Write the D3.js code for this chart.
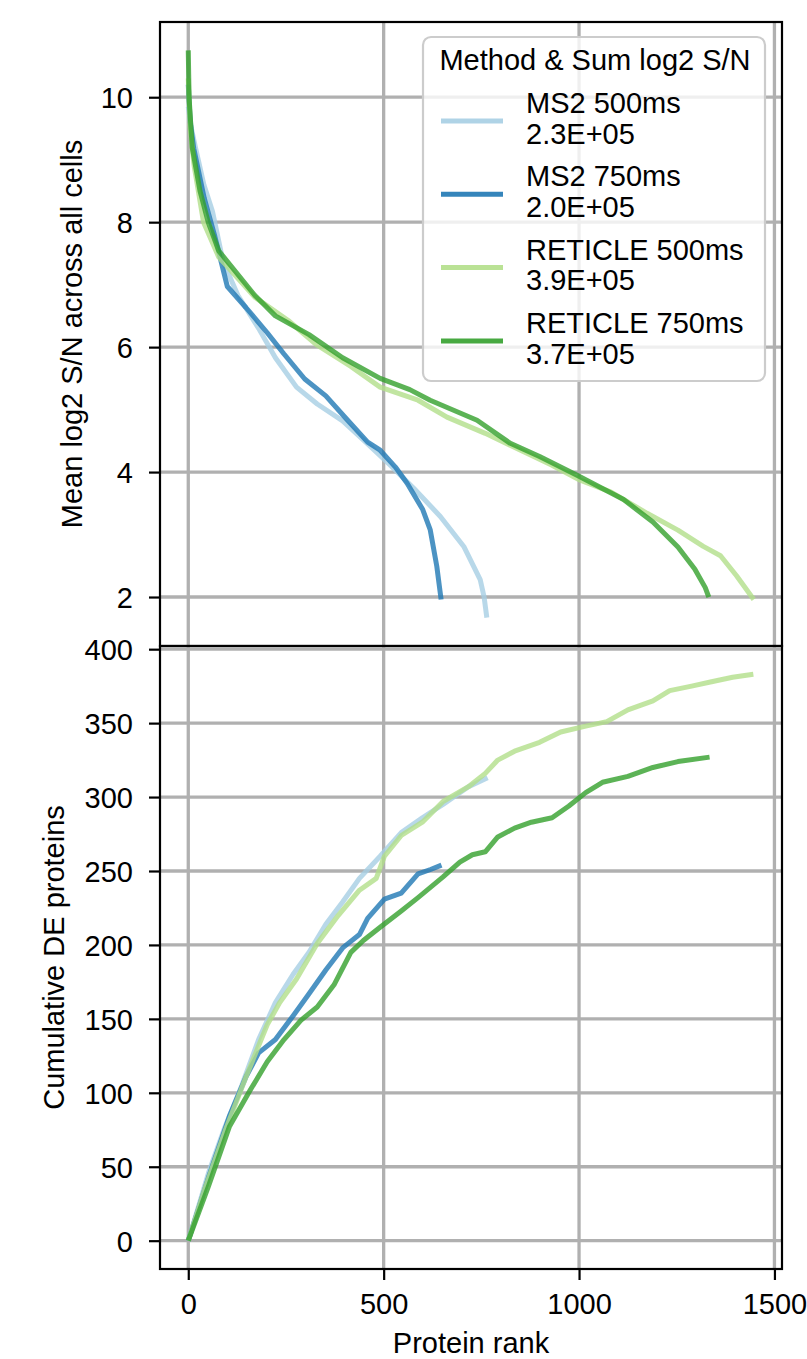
<!DOCTYPE html>
<html>
<head>
<meta charset="utf-8">
<script src="https://cdn.jsdelivr.net/npm/d3@7"></script>
<style>
  body { margin: 0; background: #ffffff; }
  svg { display: block; }
</style>
</head>
<body>
<script>
// series names + legend text
const seriesNames = ["MS2 500ms", "MS2 750ms", "RETICLE 500ms", "RETICLE 750ms"];
const seriesSums = ["2.3E+05", "2.0E+05", "3.9E+05", "3.7E+05"];

// top panel: [protein rank, mean log2 S/N]
const ms2_500_sn = [[0, 9.85], [8, 9.5], [19, 9.18], [40, 8.6], [62, 8.17], [89, 7.37], [127, 6.83], [180, 6.3], [223, 5.83], [277, 5.36], [330, 5.09], [395, 4.82], [459, 4.45], [517, 4.11], [577, 3.74], [645, 3.29], [705, 2.81], [747, 2.28], [757, 2.0], [764, 1.67]];
const ms2_750_sn = [[0, 10.2], [5, 9.6], [14, 9.18], [41, 8.38], [68, 7.77], [100, 6.97], [148, 6.63], [202, 6.23], [245, 5.89], [298, 5.49], [352, 5.22], [405, 4.85], [459, 4.48], [491, 4.35], [530, 4.08], [560, 3.82], [600, 3.4], [619, 3.08], [636, 2.49], [642, 2.2], [647, 1.96]];
const ret_500_sn = [[0, 10.3], [5, 9.5], [15, 8.9], [39, 8.0], [78, 7.44], [170, 6.8], [255, 6.43], [330, 6.03], [416, 5.69], [491, 5.36], [588, 5.15], [662, 4.88], [760, 4.62], [833, 4.40], [931, 4.11], [1003, 3.87], [1082, 3.68], [1174, 3.34], [1253, 3.07], [1318, 2.81], [1362, 2.66], [1403, 2.34], [1447, 1.96]];
const ret_750_sn = [[0, 10.75], [2, 10.0], [10, 9.2], [30, 8.5], [51, 8.0], [78, 7.54], [170, 6.83], [223, 6.5], [309, 6.2], [395, 5.83], [491, 5.5], [567, 5.32], [619, 5.15], [739, 4.83], [824, 4.46], [899, 4.25], [995, 3.95], [1114, 3.56], [1189, 3.2], [1253, 2.8], [1296, 2.45], [1323, 2.15], [1332, 2.0]];

// bottom panel: [protein rank, cumulative DE proteins]
const ms2_500_de = [[0, 0], [52, 46], [94, 77], [137, 105], [180, 136], [223, 161], [268, 180], [309, 195], [352, 214], [395, 229], [438, 245], [491, 260], [545, 276], [599, 286], [652, 295], [717, 307], [766, 313]];
const ms2_750_de = [[0, 0], [52, 43], [105, 84], [148, 111], [180, 127], [223, 136], [268, 152], [309, 167], [352, 183], [395, 198], [438, 207], [459, 218], [502, 231], [545, 235], [588, 248], [620, 251], [648, 254]];
const ret_500_de = [[0, 0], [41, 34], [94, 74], [148, 111], [202, 146], [234, 161], [277, 177], [330, 201], [384, 220], [438, 237], [481, 245], [502, 260], [545, 274], [599, 283], [652, 297], [717, 307], [760, 316], [792, 325], [835, 331], [899, 337], [953, 344], [1017, 348], [1071, 351], [1125, 359], [1189, 365], [1232, 372], [1288, 375], [1339, 378], [1393, 381], [1446, 383]];
const ret_750_de = [[0, 0], [52, 37], [105, 77], [159, 102], [202, 121], [245, 136], [288, 149], [330, 158], [373, 173], [416, 195], [448, 203], [491, 212], [545, 223], [588, 232], [652, 246], [695, 256], [727, 261], [760, 263], [792, 273], [835, 279], [878, 283], [931, 286], [974, 294], [1017, 303], [1060, 310], [1125, 314], [1189, 320], [1253, 324], [1334, 327]];

const xTicks = [0, 500, 1000, 1500];
const snTicks = [2, 4, 6, 8, 10];
const deTicks = [0, 50, 100, 150, 200, 250, 300, 350, 400];

const colors = ["#a6cee3", "#1f78b4", "#b2df8a", "#33a02c"];

let W = 807, H = 1359;
let left = 160, right = 782;
let top1 = 22, bot1 = 646, top2 = 646, bot2 = 1269;
let font = "'Liberation Sans', Arial, sans-serif";
let fs = 29;

let svg = d3.select("body").append("svg")
  .attr("width", W)
  .attr("height", H);

// matplotlib-ish 5% padding
function padded(lo, hi) {
  let m = (hi - lo) * 0.05;
  return [lo - m, hi + m];
}

let snSeries = [ms2_500_sn, ms2_750_sn, ret_500_sn, ret_750_sn];
let deSeries = [ms2_500_de, ms2_750_de, ret_500_de, ret_750_de];

let allRanks = snSeries.concat(deSeries).flat().map(d => d[0]);
let x = d3.scaleLinear().domain(padded(d3.min(allRanks), d3.max(allRanks))).range([left, right]);

let snVals = snSeries.flat().map(d => d[1]);
let y1 = d3.scaleLinear().domain(padded(d3.min(snVals), d3.max(snVals))).range([bot1, top1]);

let deVals = deSeries.flat().map(d => d[1]);
let y2 = d3.scaleLinear().domain(padded(d3.min(deVals), d3.max(deVals))).range([bot2, top2]);

function panel(id, y, yTicks, series, yTop, yBot, showX) {
  let g = svg.append("g");

  svg.append("clipPath").attr("id", id)
    .append("rect")
    .attr("x", left).attr("y", yTop)
    .attr("width", right - left).attr("height", yBot - yTop);

  // grid
  g.selectAll(".vg").data(xTicks).enter().append("line")
    .attr("x1", d => x(d)).attr("x2", d => x(d))
    .attr("y1", yTop).attr("y2", yBot)
    .attr("stroke", "#b0b0b0").attr("stroke-width", 3.3);
  g.selectAll(".hg").data(yTicks).enter().append("line")
    .attr("x1", left).attr("x2", right)
    .attr("y1", d => y(d)).attr("y2", d => y(d))
    .attr("stroke", "#b0b0b0").attr("stroke-width", 3.3);

  // lines
  let line = d3.line().x(d => x(d[0])).y(d => y(d[1]));
  g.append("g").attr("clip-path", "url(#" + id + ")")
    .selectAll("path").data(series).enter().append("path")
    .attr("d", line)
    .attr("fill", "none")
    .attr("stroke", (d, i) => colors[i])
    .attr("stroke-width", 5)
    .attr("stroke-opacity", 0.8)
    .attr("stroke-linejoin", "round")
    .attr("stroke-linecap", "butt");

  // y axis
  let ya = g.append("g")
    .attr("transform", "translate(" + left + ",0)")
    .call(d3.axisLeft(y).tickValues(yTicks).tickSize(11).tickPadding(16).tickFormat(d3.format("d")));
  ya.select(".domain").remove();
  ya.selectAll(".tick line").attr("stroke", "#000").attr("stroke-width", 2.2);
  ya.selectAll(".tick text")
    .attr("font-family", font).attr("font-size", fs).attr("fill", "#000")
    .attr("dy", "0.36em");

  if (showX) {
    let xa = g.append("g")
      .attr("transform", "translate(0," + yBot + ")")
      .call(d3.axisBottom(x).tickValues(xTicks).tickSize(11).tickPadding(13).tickFormat(d3.format("d")));
    xa.select(".domain").remove();
    xa.selectAll(".tick line").attr("stroke", "#000").attr("stroke-width", 2.2);
    xa.selectAll(".tick text")
      .attr("font-family", font).attr("font-size", fs).attr("fill", "#000");
  }

  // frame
  g.append("rect")
    .attr("x", left).attr("y", yTop)
    .attr("width", right - left).attr("height", yBot - yTop)
    .attr("fill", "none").attr("stroke", "#000").attr("stroke-width", 2.2);

  return g;
}

panel("clipTop", y1, snTicks, snSeries, top1, bot1, false);
panel("clipBot", y2, deTicks, deSeries, top2, bot2, true);

// axis labels
svg.append("text")
  .attr("transform", "translate(82," + ((top1 + bot1) / 2) + ") rotate(-90)")
  .attr("text-anchor", "middle")
  .attr("font-family", font).attr("font-size", fs)
  .text("Mean log2 S/N across all cells");

svg.append("text")
  .attr("transform", "translate(64," + ((top2 + bot2) / 2) + ") rotate(-90)")
  .attr("text-anchor", "middle")
  .attr("font-family", font).attr("font-size", fs)
  .text("Cumulative DE proteins");

svg.append("text")
  .attr("x", (left + right) / 2).attr("y", 1353)
  .attr("text-anchor", "middle")
  .attr("font-family", font).attr("font-size", fs)
  .text("Protein rank");

// legend
let lg = svg.append("g");
lg.append("rect")
  .attr("x", 423).attr("y", 37)
  .attr("width", 342).attr("height", 344)
  .attr("rx", 8)
  .attr("fill", "#ffffff").attr("fill-opacity", 0.8)
  .attr("stroke", "#cccccc").attr("stroke-width", 2.2);

lg.append("text")
  .attr("x", 595).attr("y", 70)
  .attr("text-anchor", "middle")
  .attr("font-family", font).attr("font-size", fs)
  .text("Method & Sum log2 S/N");

let items = lg.selectAll(".item").data(seriesNames).enter().append("g")
  .attr("transform", (d, i) => "translate(0," + (121 + i * 73.3) + ")");

items.append("line")
  .attr("x1", 441).attr("x2", 503)
  .attr("y1", 0).attr("y2", 0)
  .attr("stroke", (d, i) => colors[i])
  .attr("stroke-width", 5)
  .attr("stroke-opacity", 0.9);

items.append("text")
  .attr("x", 526).attr("y", -8)
  .attr("font-family", font).attr("font-size", fs)
  .text(d => d);

items.append("text")
  .attr("x", 526).attr("y", 22.6)
  .attr("font-family", font).attr("font-size", fs)
  .text((d, i) => seriesSums[i]);
</script>
</body>
</html>
